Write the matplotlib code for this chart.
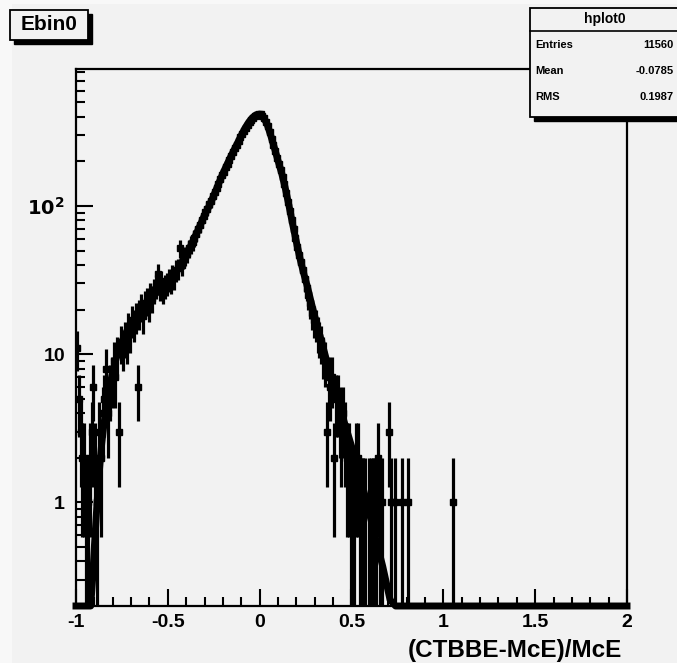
import numpy as np
import matplotlib
matplotlib.use("Agg")
import matplotlib.pyplot as plt
from matplotlib.patches import Rectangle
from matplotlib.ticker import FixedLocator, FixedFormatter, LogLocator, NullFormatter

# histogramme : 300 bins de -1 a 2 (largeur 0.01)
edges = np.linspace(-1.0, 2.0, 301)

# contenus des bins, ligne par ligne (chaque ligne = 0.1 en x), depuis -1.0
counts_rows = [
    [11, 5, 3, 2, 2, 1, 1, 2, 3, 6],                      # -1.0 .. -0.9
    [2, 1, 3, 2, 4, 5, 8, 4, 6, 7],                       # -0.9 .. -0.8
    [9, 7, 10, 3, 12, 11, 13, 12, 15, 14],                # -0.8 .. -0.7
    [17, 16, 18, 6, 19, 21, 18, 22, 23, 21],              # -0.7 .. -0.6
    [25, 24, 27, 29, 35, 28, 31, 27, 29, 30],             # -0.6 .. -0.5
    [32, 31, 34, 33, 37, 38, 52, 40, 44, 46],             # -0.5 .. -0.4
    [48, 52, 55, 57, 61, 65, 70, 74, 80, 86],             # -0.4 .. -0.3
    [91, 96, 103, 108, 116, 124, 133, 141, 152, 161],     # -0.3 .. -0.2
    [170, 182, 193, 205, 218, 230, 245, 258, 274, 290],   # -0.2 .. -0.1
    [306, 322, 338, 352, 368, 380, 394, 405, 414, 420],   # -0.1 .. 0.0
    [415, 405, 390, 370, 345, 315, 285, 258, 235, 212],   # 0.0 .. 0.1
    [192, 175, 158, 140, 122, 107, 93, 81, 70, 61],       # 0.1 .. 0.2
    [53, 47, 42, 37, 32, 28, 25, 22, 19, 17],             # 0.2 .. 0.3
    [16, 14, 13, 12, 10, 9, 3, 7, 6, 7],                  # 0.3 .. 0.4
    [2, 5, 5, 4, 3, 4, 3, 2, 2, 1],                       # 0.4 .. 0.5
    [1, 1, 2, 2, 1, 1, 1, 1, 0, 1],                       # 0.5 .. 0.6
    [1, 1, 1, 1, 2, 1, 1, 0, 0, 0],                       # 0.6 .. 0.7
    [3, 1, 0, 1, 0, 0, 0, 1, 0, 0],                       # 0.7 .. 0.8
    [1, 0, 0, 0, 0, 0, 0, 0, 0, 0],                       # 0.8 .. 0.9
    [0, 0, 0, 0, 0, 0, 0, 0, 0, 0],                       # 0.9 .. 1.0
    [0, 0, 0, 0, 0, 1, 0, 0, 0, 0],                       # 1.0 .. 1.1
]

# courbe lissee ; sous le minimum elle est ecrasee sur l'axe
curve_x = [-1.0, -0.93, -0.92, -0.91, -0.90, -0.89, -0.88, -0.87, -0.86, -0.85, -0.84, -0.83,
           -0.82, -0.80, -0.78, -0.76, -0.74, -0.72, -0.70, -0.68, -0.66, -0.64,
           -0.62, -0.60, -0.58, -0.56, -0.54, -0.52, -0.50, -0.48, -0.46, -0.44,
           -0.42, -0.40, -0.38, -0.36, -0.34, -0.32, -0.30, -0.28, -0.26, -0.24,
           -0.22, -0.20, -0.18, -0.16, -0.14, -0.12, -0.10, -0.08, -0.06, -0.04,
           -0.02, 0.00, 0.02, 0.04, 0.06, 0.08, 0.10, 0.12, 0.14, 0.16,
           0.18, 0.20, 0.22, 0.24, 0.26, 0.28, 0.30, 0.32, 0.34, 0.36,
           0.38, 0.40, 0.42, 0.44, 0.46, 0.48, 0.50, 0.55, 0.60, 0.63,
           0.67, 0.71, 0.74, 2.0]
curve_y = [0.01, 0.1, 0.18, 0.3, 0.5, 0.8, 1.25, 1.8, 2.5, 3.2, 4.0, 4.9,
           5.8, 7.6, 9.5, 11.3, 13.0, 14.6, 16.1, 17.5, 18.9, 20.3,
           21.7, 23.1, 24.5, 26, 27.5, 29, 30.5, 32.5, 35, 38.5,
           42.5, 47, 52.5, 59, 67, 76, 87, 97, 110, 126,
           145, 166, 188, 212, 238, 267, 300, 335, 367, 394,
           412, 416, 398, 358, 300, 247, 202, 166, 131, 100,
           75, 57, 44, 35, 28.5, 22.5, 18, 14.5, 11.8, 9.5,
           7.7, 6.3, 5.2, 4.3, 3.5, 2.9, 2.4, 1.45, 0.82, 0.58,
           0.37, 0.22, 0.15, 0.001]

xticks = [-1, -0.5, 0, 0.5, 1, 1.5, 2]
xticklabels = ["-1", "-0.5", "0", "0.5", "1", "1.5", "2"]
yticks = [1, 10, 100]
yticklabels = ["1", "10", r"$\mathbf{10^{2}}$"]

stats_names = ["Entries", "Mean", "RMS"]
stats_values = ["11560", "-0.0785", "0.1987"]

W, H = 677, 663
bg = "#f2f2f2"
ymin, ymax = 0.2, 840
plt.rcParams['font.family'] = ['Liberation Sans', 'DejaVu Sans']

fig = plt.figure(figsize=(W / 100, H / 100), dpi=100, facecolor="#f8f8f8")

def fx(px):
    return px / W

def fy(py):
    return 1 - py / H

# zone du canvas
fig.patches.append(Rectangle((fx(12), 0), 1, fy(4), transform=fig.transFigure,
                             facecolor=bg, edgecolor="none", zorder=-5))

ax = fig.add_axes([fx(76), fy(606), fx(627) - fx(76), fy(69) - fy(606)])
ax.set_facecolor(bg)

counts = np.concatenate([np.array(r) for r in counts_rows])
centers = (edges[:-1] + edges[1:]) / 2
centers = centers[:len(counts)]
m = counts > 0
xc = centers[m]
yc = counts[m].astype(float)
err = np.sqrt(yc)
low = np.where(yc - err <= 0, yc - 1e-4, err)

ax.errorbar(xc, yc, yerr=[low, err], xerr=0.005, fmt="s", ms=5, color="k",
            ecolor="k", elinewidth=2.3, capsize=0, zorder=3)

# la courbe sous ymin est tracee sur l'axe comme dans ROOT
cy = np.clip(np.array(curve_y), ymin, None)
ax.plot(curve_x, cy, color="k", lw=5, zorder=4, clip_on=False,
        solid_joinstyle="round")

ax.set_yscale("log")
ax.set_xlim(-1, 2)
ax.set_ylim(ymin, ymax)

ax.xaxis.set_major_locator(FixedLocator(xticks))
ax.xaxis.set_major_formatter(FixedFormatter(xticklabels))
ax.xaxis.set_minor_locator(FixedLocator(np.arange(-1, 2.01, 0.1)))
ax.yaxis.set_major_locator(FixedLocator(yticks))
ax.yaxis.set_major_formatter(FixedFormatter(yticklabels))
ax.yaxis.set_minor_locator(LogLocator(base=10, subs=np.arange(2, 10)))
ax.yaxis.set_minor_formatter(NullFormatter())

ax.tick_params(axis="both", which="major", direction="in", length=12, width=1.5,
               labelsize=14, top=False, right=False)
ax.tick_params(axis="both", which="minor", direction="in", length=6.5, width=1.5,
               top=False, right=False)
ax.tick_params(axis="x", pad=6)
ax.tick_params(axis="y", pad=8)
for lab in ax.get_xticklabels() + ax.get_yticklabels():
    lab.set_fontweight("bold")
for s in ax.spines.values():
    s.set_linewidth(1.6)

fig.text(fx(622), fy(650), "(CTBBE-McE)/McE", ha="right", va="center",
         fontsize=17.5, fontweight="bold")

# boite titre
fig.patches.append(Rectangle((fx(14), fy(44)), fx(88) - fx(10), fy(10) - fy(40),
                             transform=fig.transFigure, facecolor="k", edgecolor="k", zorder=5))
fig.patches.append(Rectangle((fx(10), fy(40)), fx(88) - fx(10), fy(10) - fy(40),
                             transform=fig.transFigure, facecolor=bg, edgecolor="k",
                             lw=1.3, zorder=6))
fig.text(fx(49), fy(25), "Ebin0", ha="center", va="center", fontsize=15,
         fontweight="bold", zorder=7)

# boite statistiques
fig.patches.append(Rectangle((fx(534), fy(121)), 0.3, fy(8) - fy(117),
                             transform=fig.transFigure, facecolor="k", edgecolor="k", zorder=5))
fig.patches.append(Rectangle((fx(530), fy(117)), 0.3, fy(8) - fy(117),
                             transform=fig.transFigure, facecolor=bg, edgecolor="k",
                             lw=1.3, zorder=6))
fig.lines.append(plt.Line2D([fx(530), 1], [fy(31), fy(31)], transform=fig.transFigure,
                            color="k", lw=1.2, zorder=7))
fig.text(fx(605), fy(19), "hplot0", ha="center", va="center", fontsize=10,
         fontweight="bold", zorder=7)
for i, (n, v) in enumerate(zip(stats_names, stats_values)):
    yy = fy(45 + 26 * i)
    fig.text(fx(535), yy, n, ha="left", va="center", fontsize=8, fontweight="bold", zorder=7)
    fig.text(fx(674), yy, v, ha="right", va="center", fontsize=8, fontweight="bold", zorder=7)

fig.savefig("out.png", dpi=100, facecolor=fig.get_facecolor())
